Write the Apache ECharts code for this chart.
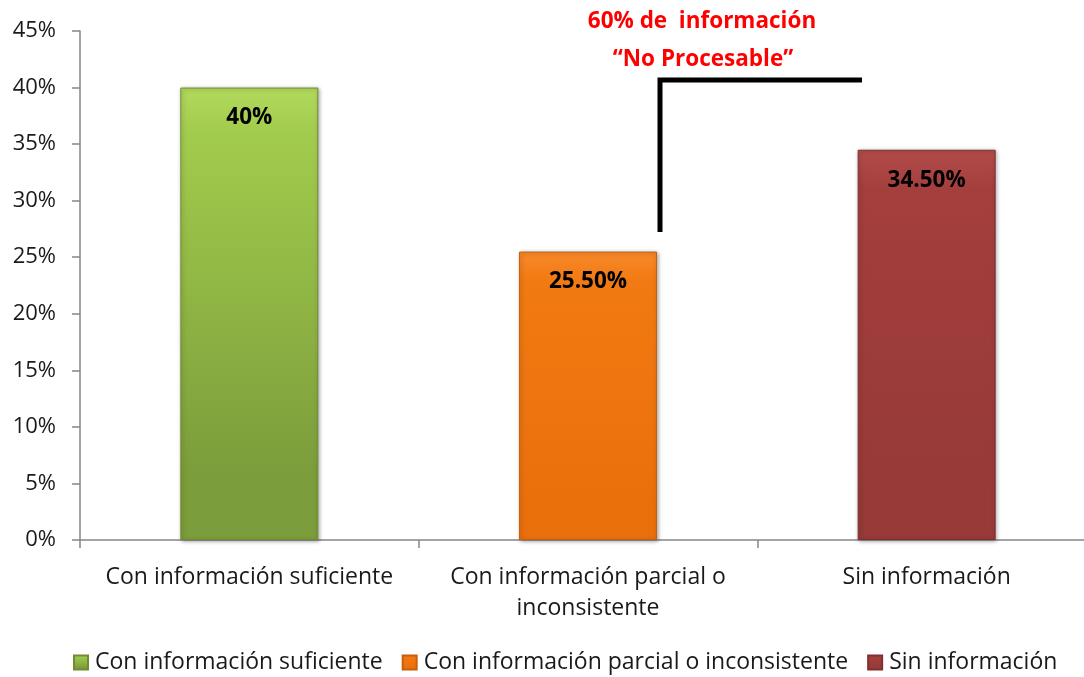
<!DOCTYPE html>
<html><head><meta charset="utf-8">
<script src="https://cdn.jsdelivr.net/npm/echarts@6/dist/echarts.min.js"></script>
<style>html,body{margin:0;padding:0;background:#fff}#c{width:1084px;height:677px}</style>
</head><body><div id="c"></div>
<script>
const categories = ['Con información suficiente', 'Con información parcial o\ninconsistente', 'Sin información'];
const seriesNames = ['Con información suficiente', 'Con información parcial o inconsistente', 'Sin información'];
const values = [40, 25.5, 34.5];
const yTicks = [0, 5, 10, 15, 20, 25, 30, 35, 40, 45];
const annotationLines = ['60% de  información', '“No Procesable”'];

const palettes = [
  ['#b2d95c', '#a2cc4d', '#7c9d3b', '#6f8c33'],
  ['#f7892a', '#f27a12', '#ea700c', '#c85f0a'],
  ['#b24c4a', '#a43f3d', '#973a38', '#7f302e']
];
const FONT = '"Open Sans", sans-serif';

function grad(p) {
  return new echarts.graphic.LinearGradient(0, 0, 0, 1, [
    {offset: 0, color: p[0]}, {offset: 0.1, color: p[1]}, {offset: 0.85, color: p[2]}, {offset: 1, color: p[2]}
  ]);
}

const series = seriesNames.map((name, i) => ({
  name: name,
  type: 'bar',
  barWidth: 138,
  barGap: '-100%',
  data: values.map((v, j) => j === i ? v : '-'),
  itemStyle: {color: grad(palettes[i]), borderColor: palettes[i][3], borderWidth: 1,
    shadowColor: 'rgba(0,0,0,0.35)', shadowBlur: 4, shadowOffsetX: 1, shadowOffsetY: 1},
  label: {show: true, position: 'insideTop', distance: 19, color: '#000', fontWeight: 'bold',
    fontSize: 22.5, fontFamily: FONT,
    formatter: p => (p.value % 1 === 0 ? p.value : p.value.toFixed(2)) + '%'},
  emphasis: {disabled: true}
}));

const chart = echarts.init(document.getElementById('c'), null, {renderer: 'canvas'});
chart.setOption({
  animation: false,
  textStyle: {fontFamily: FONT},
  grid: {left: 80, top: 31, width: 1016, height: 509, containLabel: false, outerBoundsMode: 'none'},
  xAxis: {type: 'category', data: categories,
    axisLine: {lineStyle: {color: '#878787', width: 1.5}},
    axisTick: {show: true, length: 8, interval: 0, alignWithLabel: false, lineStyle: {color: '#878787', width: 1.5}},
    axisLabel: {color: '#1a1a1a', fontSize: 23, fontFamily: FONT, margin: 22, lineHeight: 31, interval: 0, hideOverlap: false}
  },
  yAxis: {type: 'value', min: 0, max: 45, interval: 5,
    axisLine: {show: true, lineStyle: {color: '#878787', width: 1.5}},
    axisTick: {show: true, length: 8, inside: false, lineStyle: {color: '#878787', width: 1.5}},
    splitLine: {show: false},
    axisLabel: {color: '#1a1a1a', fontSize: 22, fontFamily: FONT, margin: 24,
      formatter: v => yTicks.includes(v) ? v + '%' : ''}
  },
  legend: {bottom: -2, left: 68, itemWidth: 14, itemHeight: 14, itemGap: 19,
    icon: 'rect',
    textStyle: {fontSize: 23, color: '#1a1a1a', fontFamily: FONT, padding: [0, 0, 0, 2]},
    data: seriesNames},
  series: series
});

// annotation bracket and text
const xL = 660, xR = 862, yTop = 80, yBot = 232;
chart.setOption({
  graphic: [
    {type: 'polyline', shape: {points: [[xL, yBot], [xL, yTop], [xR, yTop]]},
      style: {stroke: '#000', lineWidth: 5, fill: null}},
    {type: 'text', x: 702, y: 22, style: {text: annotationLines[0], fill: '#ff0000',
      font: 'bold 22.5px ' + FONT, align: 'center', verticalAlign: 'middle'}},
    {type: 'text', x: 703, y: 60, style: {text: annotationLines[1], fill: '#ff0000',
      font: 'bold 22.5px ' + FONT, align: 'center', verticalAlign: 'middle'}}
  ]
});
</script></body></html>
